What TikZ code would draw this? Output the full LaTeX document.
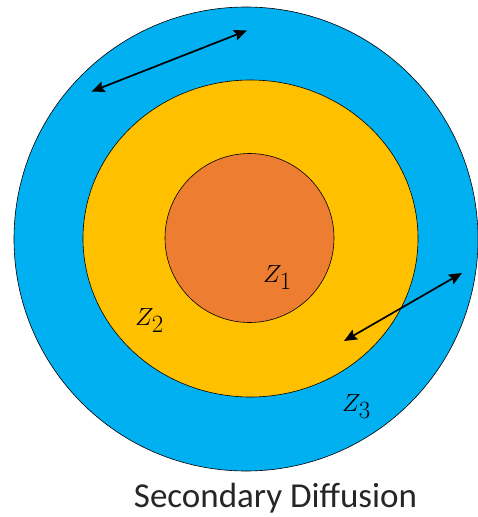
\documentclass[tikz,border=0pt]{standalone}
\usepackage{fontspec}
\setmainfont{Carlito}
\usepackage{tikz}
\usetikzlibrary{arrows.meta}
\definecolor{zoneblue}{RGB}{0,176,240}
\definecolor{zoneyellow}{RGB}{255,192,0}
\definecolor{zoneorange}{RGB}{237,125,49}
\tikzset{
  zone/.style={draw=black, line width=0.6pt},
  darrow/.style={{Stealth[length=13pt,width=11pt,inset=2pt]}-{Stealth[length=13pt,width=11pt,inset=2pt]},
    line width=1.7pt, color=black},
  zlabel/.style={inner sep=0pt, anchor=base west, font=\fontsize{36}{42}\selectfont},
  caption/.style={inner sep=0pt, anchor=base, font=\fontsize{35}{42}\selectfont, color=black!85}
}

\begin{document}
\begin{tikzpicture}[x=1pt, y=-1pt]
  \useasboundingbox (0,0) rectangle (477,517);

  % Zones, outer to inner
  \fill[zoneblue, zone] (246,239) circle [radius=232];
  \fill[zoneyellow, zone] (250.5,238.5) ellipse [x radius=167.5, y radius=158.5];
  \fill[zoneorange, zone] (249.5,238) circle [radius=84.5];

  % Exchange arrows
  \coordinate (a1) at (91.5,91.5);
  \coordinate (b1) at (247,30.5);
  \coordinate (a2) at (344,341);
  \coordinate (b2) at (462,273);
  \draw[darrow] (a1) -- (b1);
  \draw[darrow] (a2) -- (b2);

  % Labels
  \node[zlabel] (z1) at (263,282) {$Z_1$};
  \node[zlabel] (z2) at (135,325) {$Z_2$};
  \node[zlabel] (z3) at (342,411) {$Z_3$};
  \node[caption] (cap) at (275.5,507) {Secondary Diffusion};
\end{tikzpicture}
\end{document}
